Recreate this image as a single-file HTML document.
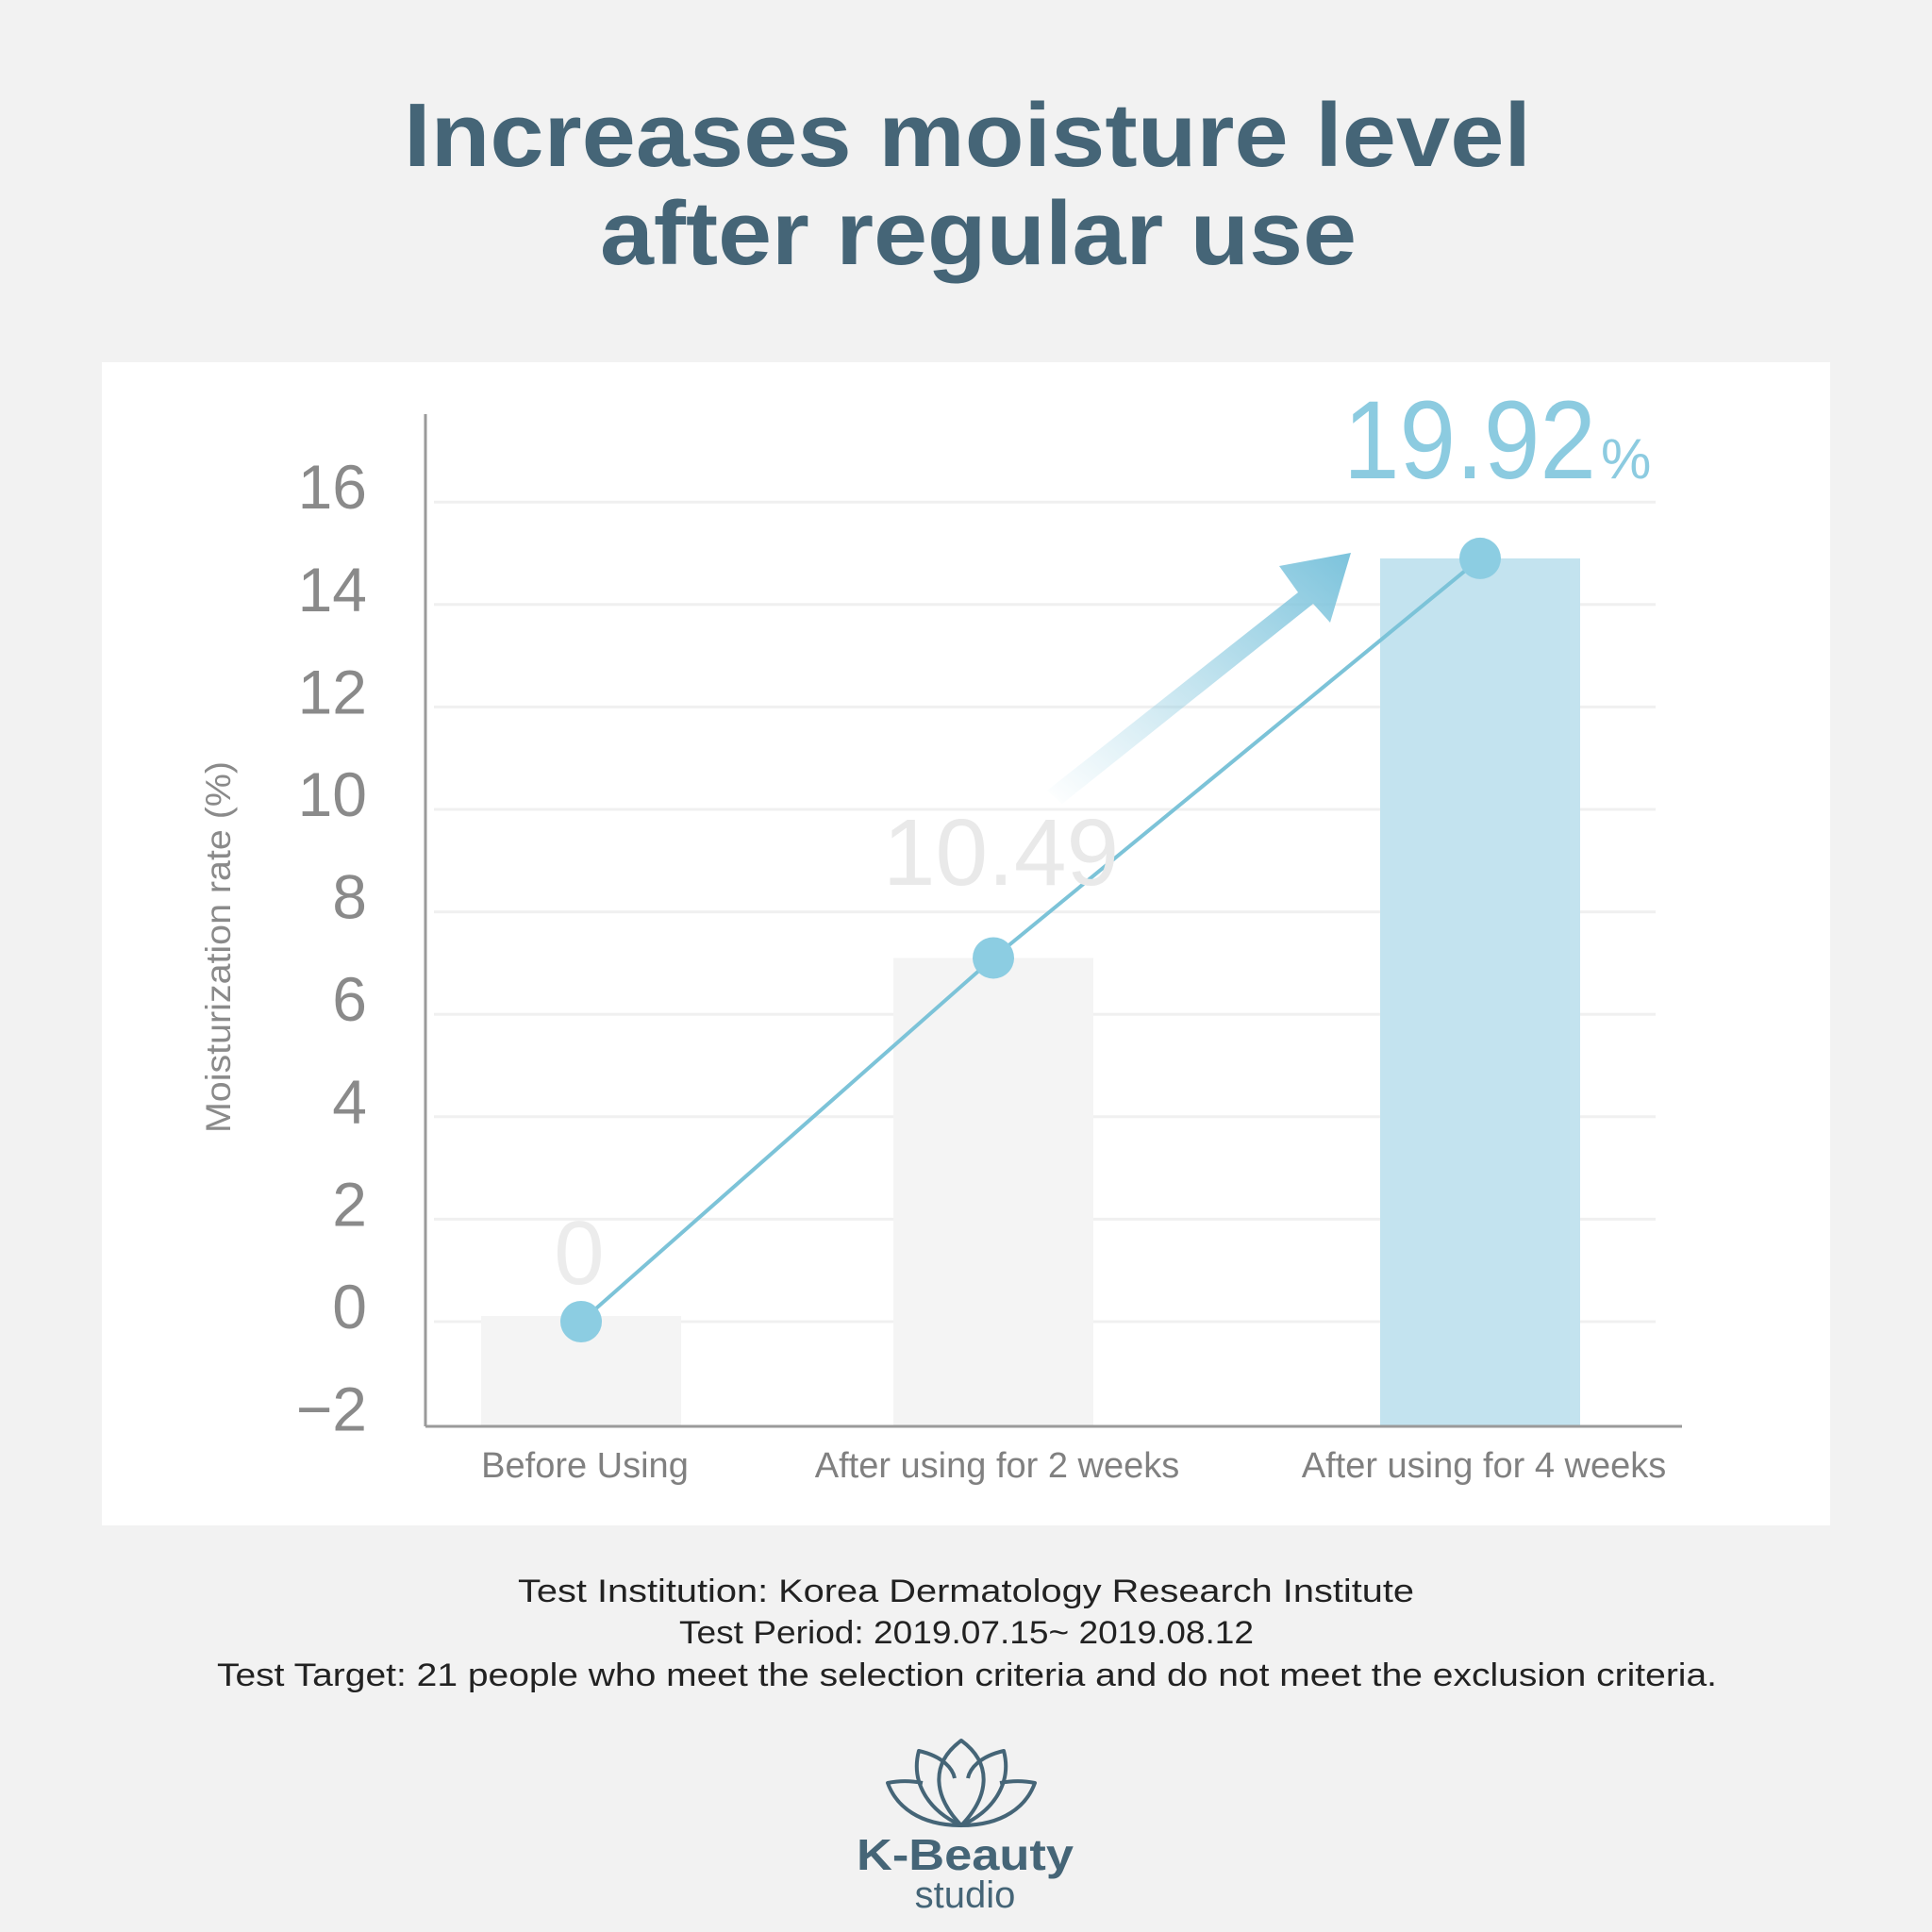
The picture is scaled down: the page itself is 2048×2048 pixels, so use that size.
<!DOCTYPE html>
<html><head><meta charset="utf-8"><style>
html,body{margin:0;padding:0;background:#f2f2f2}
svg{display:block}
</style></head><body>
<svg id="c" width="2048" height="2048" viewBox="0 0 2048 2048" xmlns="http://www.w3.org/2000/svg" font-family="Liberation Sans, DejaVu Sans, sans-serif">
<defs>
<linearGradient id="ag" x1="0" y1="1" x2="1" y2="0">
<stop offset="0" stop-color="#8ccbe0" stop-opacity="0"/>
<stop offset="1" stop-color="#7cc3dc" stop-opacity="1"/>
</linearGradient>
</defs>
<rect width="2048" height="2048" fill="#f2f2f2"/>
<text x="428" y="176" textLength="1195" lengthAdjust="spacingAndGlyphs" font-size="96" font-weight="bold" fill="#456577">Increases moisture level</text>
<text x="636" y="280" textLength="802" lengthAdjust="spacingAndGlyphs" font-size="96" font-weight="bold" fill="#456577">after regular use</text>
<rect x="108" y="384" width="1832" height="1233" fill="#ffffff"/>
<g id="grid"></g>
<g id="bars"></g>
<g id="arrow">
<polygon points="1110,838 1376,628 1356,600 1432,586 1410,660 1392,640 1126,852" fill="url(#ag)"/>
</g>
<g id="yt"></g>
<line x1="451" y1="439" x2="451" y2="1512" stroke="#9a9a9a" stroke-width="3"/>
<line x1="451" y1="1512" x2="1783" y2="1512" stroke="#9a9a9a" stroke-width="3"/>
<text transform="translate(244,1004) rotate(-90)" x="-197" textLength="394" lengthAdjust="spacingAndGlyphs" font-size="37" fill="#8a8a8a">Moisturization rate (%)</text>
<g id="line"></g>
<g id="xl"></g>
<g id="vl"></g>
<g font-size="34" fill="#222">
<text x="549" y="1698" textLength="950" lengthAdjust="spacingAndGlyphs">Test Institution: Korea Dermatology Research Institute</text>
<text x="720" y="1742" textLength="609" lengthAdjust="spacingAndGlyphs">Test Period: 2019.07.15~ 2019.08.12</text>
<text x="230" y="1787" textLength="1590" lengthAdjust="spacingAndGlyphs">Test Target: 21 people who meet the selection criteria and do not meet the exclusion criteria.</text>
</g>
<g fill="none" stroke="#456577" stroke-width="4" stroke-linejoin="round">
<path d="M1019,1935 C990,1905 985,1870 1019,1845 C1053,1870 1048,1905 1019,1935 Z"/>
<path d="M1019,1935 C985,1920 965,1890 974,1856 C1000,1862 1010,1875 1012,1885"/>
<path d="M1019,1935 C1053,1920 1073,1890 1064,1856 C1038,1862 1028,1875 1026,1885"/>
<path d="M1019,1935 C975,1935 950,1915 941,1890 C955,1887 968,1888 978,1890"/>
<path d="M1019,1935 C1063,1935 1088,1915 1097,1890 C1083,1887 1070,1888 1060,1890"/>
</g>
<text x="908" y="1982" textLength="230" lengthAdjust="spacingAndGlyphs" font-size="46" font-weight="bold" fill="#456577">K-Beauty</text>
<text x="1023" y="2022" text-anchor="middle" font-size="40" fill="#456577">studio</text>
</svg>
<script>
const categories = ["Before Using", "After using for 2 weeks", "After using for 4 weeks"];
const barValues = [0, 7.1, 14.9];
const valueLabels = ["0", "10.49", "19.92"];
const yTicks = [16, 14, 12, 10, 8, 6, 4, 2, 0, -2];

const NS = "http://www.w3.org/2000/svg";
const y = v => 1401 - v * 54.3;
const xc = i => [616, 1053, 1569][i];
const barW = 212;
function mk(tag, attrs, parent, txt) {
  const e = document.createElementNS(NS, tag);
  for (const k in attrs) e.setAttribute(k, attrs[k]);
  if (txt !== undefined) e.textContent = txt;
  parent.appendChild(e);
  return e;
}
const grid = document.getElementById('grid');
const yt = document.getElementById('yt');
yTicks.forEach(t => {
  if (t > -2) {
    const g = mk('line', {x1: 460, x2: 1755, y1: y(t), y2: y(t), stroke: '#f0f0f0', 'stroke-width': 3}, grid);
    
    
  }
  const l = mk('text', {x: 389, y: y(t) - 17 + 24, 'text-anchor': 'end', 'font-size': 66, fill: '#8a8a8a'}, yt, String(t).replace('-', '\u2212'));
  
  
});
const bars = document.getElementById('bars');
const barFills = ['#f4f4f4', '#f4f4f4', '#c3e3ef'];
barValues.forEach((v, i) => {
  const top = Math.min(y(v), 1395);
  const r = mk('rect', {x: xc(i) - barW / 2, y: top, width: barW, height: 1511 - top, fill: barFills[i]}, bars);
  
  
});
const line = document.getElementById('line');
const pts = barValues.map((v, i) => xc(i) + ',' + y(v)).join(' ');
const pl = mk('polyline', {points: pts, fill: 'none', stroke: '#7cc3d8', 'stroke-width': 4}, line);


barValues.forEach((v, i) => {
  const c = mk('circle', {cx: xc(i), cy: y(v), r: 22, fill: '#8ccde2'}, line);
  
  
});
const xl = document.getElementById('xl');
categories.forEach((c, i) => {
  const t = mk('text', {x: xc(i) + 4, y: 1566, 'text-anchor': 'middle', 'font-size': 38, fill: '#808080'}, xl, c);
  
  
});
const vl = document.getElementById('vl');
const v0 = mk('text', {x: xc(0) - 2, y: y(barValues[0]) - 40, 'text-anchor': 'middle', 'font-size': 96, fill: '#ececec'}, vl, valueLabels[0]);


const v1 = mk('text', {x: xc(1) + 8, y: 938, 'text-anchor': 'middle', 'font-size': 100, fill: '#e9e9e9'}, vl, valueLabels[1]);


const v2 = mk('text', {x: 1424, y: 507, 'font-size': 118, fill: '#8ccbe0', textLength: 268, lengthAdjust: 'spacingAndGlyphs'}, vl, valueLabels[2]);


const pc = mk('text', {x: 1697, y: 507, 'font-size': 60, fill: '#8ccbe0'}, vl, '%');


</script>
</body></html>
